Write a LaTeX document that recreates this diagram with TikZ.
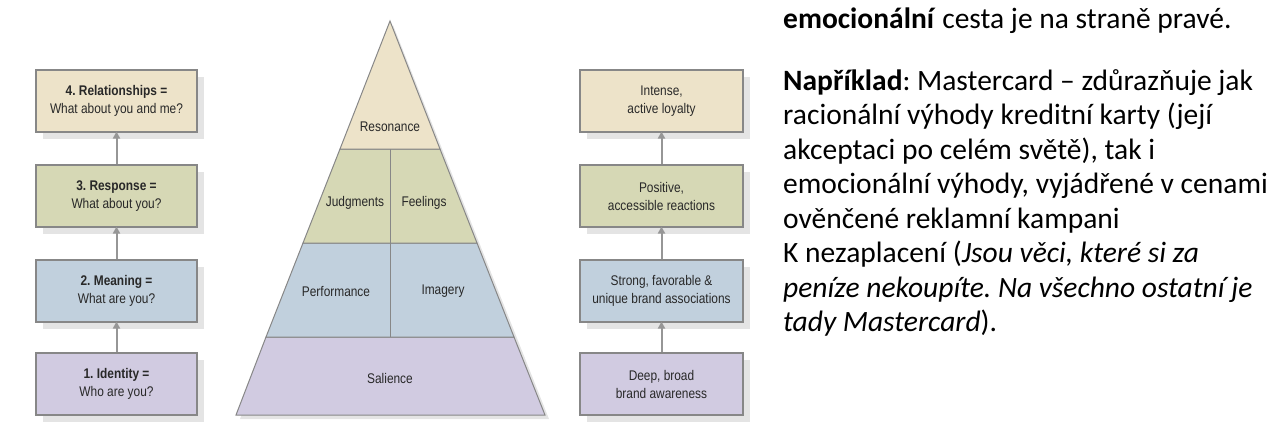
\documentclass[tikz,border=0pt]{standalone}
\usepackage{fontspec}
\setmainfont{Carlito}
\newfontfamily\cond[FakeStretch=0.85]{Liberation Sans}
\usetikzlibrary{arrows.meta,shadows}
\frenchspacing
\definecolor{ctan}{RGB}{237,227,201}
\definecolor{cgreen}{RGB}{214,216,181}
\definecolor{cblue}{RGB}{193,208,221}
\definecolor{clav}{RGB}{209,203,225}
\definecolor{cborder}{RGB}{135,135,135}
\definecolor{ctext}{RGB}{40,40,40}
\definecolor{carrow}{RGB}{150,150,150}
\definecolor{cshadow}{RGB}{228,228,228}
\tikzset{
  lbox/.style={draw=cborder, line width=1.1pt, minimum width=161pt, minimum height=62pt,
    align=center, text=ctext, font=\cond\fontsize{14}{18}\selectfont, inner sep=0pt,
    drop shadow={shadow xshift=7pt, shadow yshift=-7pt, fill=cshadow, opacity=1}},
  rbox/.style={lbox, minimum width=163pt},
  arr/.style={draw=carrow, line width=2pt, -{Triangle[width=7pt,length=7pt]}, shorten >=-1pt},
  pyr/.style={draw=cborder, line width=1pt},
  plabel/.style={text=ctext, font=\cond\fontsize{14}{18}\selectfont, inner sep=0pt},
  para/.style={anchor=base west, inner sep=0pt, font=\fontsize{29.5}{34}\selectfont, text=black}
}
\begin{document}
\begin{tikzpicture}[x=1pt,y=-1pt]
\useasboundingbox (0,0) rectangle (1278,440);
% left boxes
\node[lbox, fill=ctan]   (L4) at (116.5,101) {\textbf{4. Relationships =}\\What about you and me?};
\node[lbox, fill=cgreen] (L3) at (116.5,196) {\textbf{3. Response =}\\What about you?};
\node[lbox, fill=cblue]  (L2) at (116.5,291) {\textbf{2. Meaning =}\\What are you?};
\node[lbox, fill=clav]   (L1) at (116.5,384) {\textbf{1. Identity =}\\Who are you?};
\draw[arr] (L1.north) -- (L2.south);
\draw[arr] (L2.north) -- (L3.south);
\draw[arr] (L3.north) -- (L4.south);
% right boxes
\node[rbox, fill=ctan]   (R4) at (661.5,101) {Intense,\\active loyalty};
\node[rbox, fill=cgreen] (R3) at (661.5,196) {Positive,\\accessible reactions};
\node[rbox, fill=cblue]  (R2) at (661.5,291) {Strong, favorable \&\\unique brand associations};
\node[rbox, fill=clav]   (R1) at (661.5,384) {Deep, broad\\brand awareness};
\draw[arr] (R1.north) -- (R2.south);
\draw[arr] (R2.north) -- (R3.south);
\draw[arr] (R3.north) -- (R4.south);
% pyramid
\fill[cshadow] (393,25) -- (549,419) -- (240,419) -- cycle;
\filldraw[pyr, fill=clav]   (266,337) -- (514,337) -- (545,415) -- (236,415) -- cycle;
\filldraw[pyr, fill=cblue]  (303,243) -- (477,243) -- (514,337) -- (266,337) -- cycle;
\filldraw[pyr, fill=cgreen] (340,149) -- (440,149) -- (477,243) -- (303,243) -- cycle;
\filldraw[pyr, fill=ctan]   (390,21) -- (440,149) -- (340,149) -- cycle;
\draw[pyr] (390,149) -- (390,337);
\node[plabel] (res) at (390,127) {Resonance};
\node[plabel] (jud) at (355,203) {Judgments};
\node[plabel] (fee) at (424,203) {Feelings};
\node[plabel] (per) at (336,291) {Performance};
\node[plabel] (ima) at (443,291) {Imagery};
\node[plabel] (sal) at (390,378) {Salience};
% text
\node[para] (t1) at (783,28) {\textbf{emocionální} cesta je na straně pravé.};
\node[para] (t2) at (783,90) {\textbf{Například}: Mastercard – zdůrazňuje jak};
\node[para] (t3) at (783,124.5) {racionální výhody kreditní karty (její};
\node[para] (t4) at (783,159) {akceptaci po celém světě), tak i};
\node[para] (t5) at (783,193.5) {emocionální výhody, vyjádřené v cenami};
\node[para] (t6) at (783,228) {ověnčené reklamní kampani};
\node[para] (t7) at (783,262.5) {K nezaplacení (\textit{Jsou věci, které si za}};
\node[para] (t8) at (783,297) {\textit{peníze nekoupíte. Na všechno ostatní je}};
\node[para] (t9) at (783,331.5) {\textit{tady Mastercard}).};
\end{tikzpicture}
\end{document}
